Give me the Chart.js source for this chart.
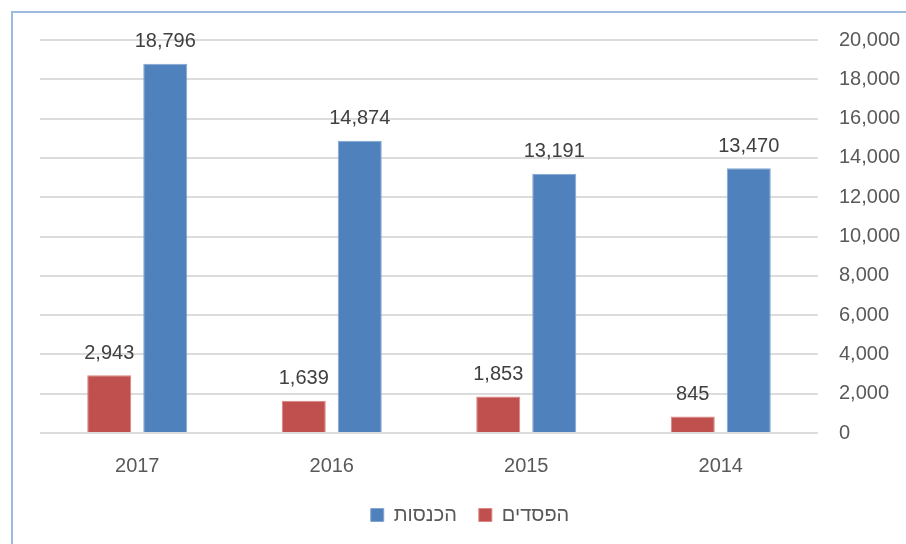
<!DOCTYPE html>
<html>
<head>
<meta charset="utf-8">
<script src="https://cdn.jsdelivr.net/npm/chart.js"></script>
<style>
  html, body { margin: 0; padding: 0; background: #fff; }
  #wrap { position: relative; width: 906px; height: 544px; overflow: hidden; }
  #frame {
    position: absolute; left: 11px; top: 11px; width: 920px; height: 560px;
    border-left: 2px solid #9dbbde; border-top: 2px solid #9dbbde;
  }
  canvas { position: absolute; left: 0; top: 0; }
</style>
</head>
<body>
<div id="wrap">
  <div id="frame"></div>
  <canvas id="chart" width="906" height="544"></canvas>
</div>
<script>
// values
const years = ["2017", "2016", "2015", "2014"];
const losses = [2943, 1639, 1853, 845];       // הפסדים
const revenue = [18796, 14874, 13191, 13470]; // הכנסות
const yTicks = [0, 2000, 4000, 6000, 8000, 10000, 12000, 14000, 16000, 18000, 20000];

const fmt = (v) => v.toLocaleString("en-US");

// draw the numbers above each bar
const valueLabels = {
  id: "valueLabels",
  afterDatasetsDraw(chart) {
    const ctx = chart.ctx;
    ctx.save();
    ctx.font = "20px 'Liberation Sans', Arial, sans-serif";
    ctx.fillStyle = "#404040";
    ctx.textAlign = "center";
    ctx.textBaseline = "middle";
    chart.data.datasets.forEach((ds, i) => {
      chart.getDatasetMeta(i).data.forEach((bar, j) => {
        ctx.fillText(fmt(ds.data[j]), bar.x, bar.y - 22);
      });
    });
    ctx.restore();
  },
};

new Chart(document.getElementById("chart").getContext("2d"), {
  type: "bar",
  data: {
    labels: years,
    datasets: [
      {
        label: "הפסדים",
        data: losses,
        backgroundColor: "#c0504d",
        borderColor: "#d98482",
        borderWidth: 1,
      },
      {
        label: "הכנסות",
        data: revenue,
        backgroundColor: "#4f81bd",
        borderColor: "#84a7d2",
        borderWidth: 1,
      },
    ],
  },
  options: {
    responsive: false,
    animation: false,
    categoryPercentage: 0.576,
    barPercentage: 0.786,
    layout: { padding: { left: 40, top: 40, right: 6, bottom: 9 } },
    scales: {
      x: {
        grid: { display: false },
        border: { display: false },
        afterFit: (axis) => { axis.height = 50; },
        ticks: {
          color: "#595959",
          padding: 13,
          font: { family: "'Liberation Sans', Arial, sans-serif", size: 20 },
        },
      },
      y: {
        position: "right",
        min: 0,
        max: 20000,
        afterBuildTicks: (axis) => {
          axis.ticks = yTicks.map((v) => ({ value: v }));
        },
        afterFit: (axis) => { axis.width = 82; },
        grid: { color: "#dcdcdc", lineWidth: 2, drawTicks: false },
        border: { display: false },
        ticks: {
          color: "#595959",
          padding: 21,
          crossAlign: "near",
          callback: (v) => fmt(v),
          font: { family: "'Liberation Sans', Arial, sans-serif", size: 20 },
        },
      },
    },
    plugins: {
      tooltip: { enabled: false },
      legend: {
        position: "bottom",
        reverse: true,
        labels: {
          color: "#595959",
          boxWidth: 13,
          boxHeight: 13,
          padding: 22,
          font: { family: "'Liberation Sans', Arial, sans-serif", size: 20 },
        },
      },
    },
  },
  plugins: [valueLabels],
});
</script>
</body>
</html>
